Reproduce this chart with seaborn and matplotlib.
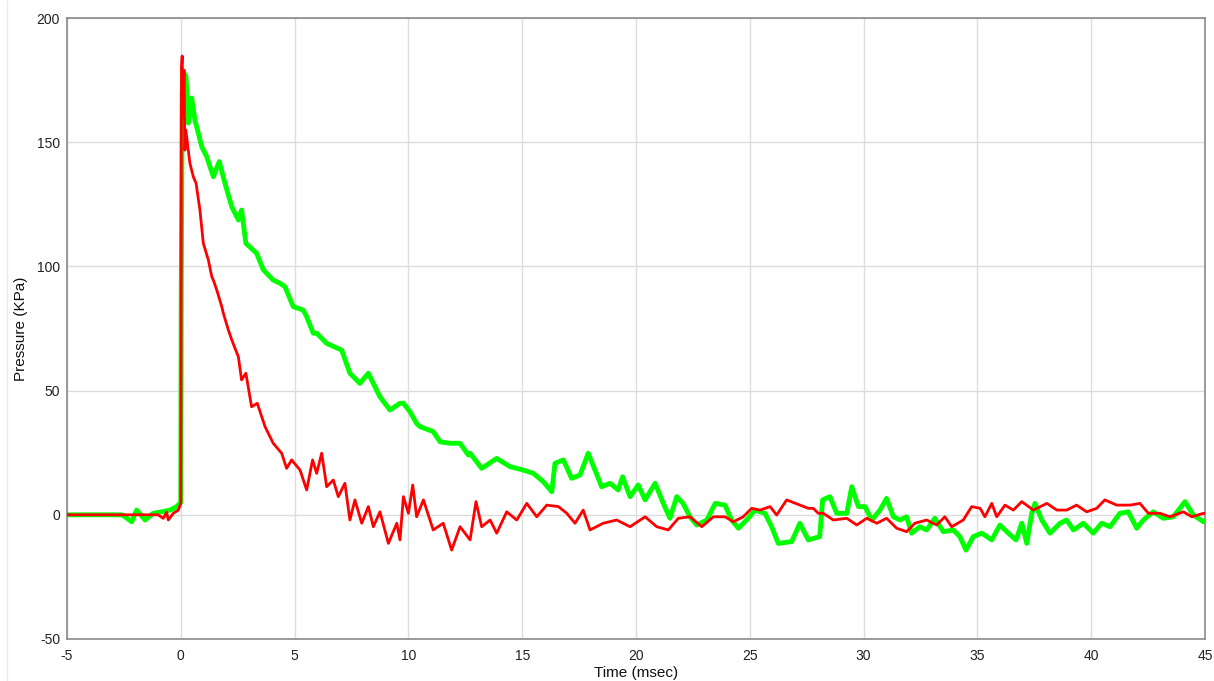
import numpy as np
import pandas as pd
import matplotlib
matplotlib.use("Agg")
import matplotlib.pyplot as plt
from matplotlib.lines import Line2D
import seaborn as sns

# ---- data ----
green_t = [-5.0, -2.6, -2.45, -2.16, -1.94, -1.57, -1.21, -0.84, -0.47, -0.18, -0.04, 0.0,
           0.02, 0.06, 0.11, 0.23, 0.33, 0.48, 0.62, 0.77, 0.92, 1.14, 1.43, 1.69, 1.94,
           2.24, 2.53, 2.67, 2.86, 3.33, 3.63, 4.06, 4.36, 4.58, 4.94, 5.38, 5.53, 5.82,
           5.97, 6.41, 7.07, 7.43, 7.87, 8.24, 8.75, 9.19, 9.63, 9.78, 10.07, 10.36, 10.51,
           11.09, 11.39, 11.83, 12.27, 12.63, 12.71, 13.22, 13.88, 14.46, 15.05, 15.49,
           15.93, 16.3, 16.44, 16.81, 17.17, 17.54, 17.9, 18.2, 18.49, 18.86, 19.22, 19.41,
           19.74, 20.10, 20.4, 20.84, 21.2, 21.49, 21.79, 22.07, 22.37, 22.67, 23.11, 23.48,
           23.91, 24.2, 24.5, 24.86, 25.23, 25.67, 25.96, 26.25, 26.84, 27.2, 27.57, 28.07,
           28.2, 28.52, 28.82, 29.26, 29.48, 29.77, 30.06, 30.36, 30.72, 31.01, 31.31,
           31.60, 31.89, 32.11, 32.47, 32.77, 33.13, 33.5, 33.94, 34.23, 34.5, 34.82,
           35.19, 35.63, 35.99, 36.36, 36.7, 36.95, 37.17, 37.39, 37.53, 37.83, 38.19,
           38.63, 38.92, 39.22, 39.66, 40.09, 40.46, 40.83, 41.26, 41.63, 42.0, 42.29,
           42.73, 43.17, 43.61, 44.12, 44.49, 44.93, 45.0]
green_p = [0.0, 0.0, -0.8, -2.8, 1.9, -2.1, 0.6, 1.2, 1.9, 3.3, 4.6, 5.0,
           90.0, 170.0, 178.4, 176.4, 157.7, 167.8, 158.9, 153.7, 148.2, 144.2, 136.1, 142.2, 133.5,
           124.0, 118.7, 122.7, 109.3, 105.3, 98.6, 94.5, 93.2, 91.8, 83.8, 82.4, 79.8, 73.1,
           73.1, 69.0, 66.3, 57.0, 52.9, 57.0, 47.5, 42.2, 44.9, 44.9, 41.5, 36.8, 35.5,
           33.5, 29.4, 28.8, 28.8, 24.1, 24.8, 18.7, 22.7, 19.4, 18.0, 16.7,
           13.3, 9.3, 20.7, 22.1, 14.7, 16.0, 24.8, 18.0, 11.3, 12.7, 10.0, 15.3,
           7.3, 12.0, 6.0, 12.7, 4.6, -1.4, 7.3, 4.6, -0.8, -4.1, -2.1, 4.6,
           3.9, -2.1, -5.4, -2.1, 1.9, 0.6, -4.8, -11.5, -10.8, -3.4, -10.1, -8.8,
           6.0, 7.3, 0.6, 0.6, 11.3, 3.3, 3.3, -2.1, 1.9, 6.6, -0.8,
           -2.1, -0.8, -7.4, -4.8, -6.1, -1.4, -6.8, -6.1, -8.8, -14.2, -8.8,
           -7.4, -10.1, -4.1, -7.4, -10.1, -3.4, -11.5, 0.6, 4.6, -2.1, -7.4,
           -3.4, -2.1, -6.1, -3.4, -7.4, -3.4, -4.8, 0.6, 1.2, -5.4, -2.1,
           1.2, -1.4, -0.8, 5.3, -0.1, -2.8, -2.5]

red_t = [-5.0, -1.0, -0.77, -0.62, -0.55, -0.33, -0.11, 0.0, 0.03, 0.06, 0.10, 0.14,
         0.18, 0.22, 0.40, 0.55, 0.67, 0.84, 0.99, 1.21, 1.36, 1.43, 1.58, 1.80, 1.87,
         2.09, 2.24, 2.53, 2.67, 2.86, 3.11, 3.36, 3.70, 4.06, 4.43, 4.65, 4.87, 5.24,
         5.53, 5.79, 5.97, 6.19, 6.41, 6.70, 6.92, 7.21, 7.43, 7.65, 7.95, 8.24, 8.46,
         8.75, 9.12, 9.49, 9.63, 9.78, 10.0, 10.19, 10.36, 10.66, 11.09, 11.53, 11.9,
         12.27, 12.71, 12.97, 13.22, 13.59, 13.88, 14.32, 14.76, 15.2, 15.64, 16.08,
         16.59, 16.96, 17.32, 17.68, 17.98, 18.56, 19.15, 19.74, 20.4, 20.91, 21.42,
         21.86, 22.37, 22.89, 23.4, 23.91, 24.28, 24.71, 25.08, 25.45, 25.89, 26.18,
         26.62, 27.2, 27.57, 27.79, 28.01, 28.23, 28.67, 29.26, 29.7, 30.14, 30.58,
         31.01, 31.45, 31.89, 32.25, 32.77, 33.21, 33.57, 33.87, 34.38, 34.75, 35.12,
         35.33, 35.63, 35.85, 36.21, 36.58, 36.95, 37.46, 38.05, 38.49, 38.92, 39.36,
         39.8, 40.24, 40.6, 41.12, 41.71, 42.14, 42.51, 43.02, 43.46, 44.05, 44.42,
         44.93, 45.0]
red_p = [0.0, 0.0, -1.4, 1.0, -2.1, 0.6, 1.9, 4.6, 180.0, 184.7, 160.0, 179.0,
         146.8, 154.9, 141.5, 136.1, 133.5, 122.7, 109.3, 102.6, 95.9, 94.5, 90.5, 83.8, 81.1,
         74.4, 70.4, 63.6, 54.3, 57.0, 43.5, 44.9, 35.5, 28.8, 24.8, 18.7, 22.1, 18.0,
         10.0, 22.1, 16.7, 24.8, 11.3, 14.0, 7.3, 12.7, -2.1, 6.0, -3.4, 3.3, -4.8,
         1.2, -11.5, -3.4, -10.1, 7.3, 0.6, 12.0, -0.8, 6.0, -6.1, -3.4, -14.2,
         -4.8, -10.1, 5.3, -4.8, -2.1, -7.4, 1.2, -2.1, 4.6, -0.8, 3.9,
         3.3, 0.6, -3.4, 1.9, -6.1, -3.4, -2.1, -4.8, -0.8, -4.8, -6.1,
         -1.4, -0.8, -4.8, -0.8, -0.8, -2.8, -0.8, 2.6, 1.9, 3.3, -0.1,
         6.0, 3.9, 2.6, 2.6, 0.6, 0.6, -2.1, -1.4, -4.1, -1.4, -3.4,
         -1.4, -5.4, -6.8, -3.4, -2.1, -4.1, -0.8, -4.8, -2.1, 3.3, 2.6,
         -0.8, 4.6, -0.8, 3.9, 1.9, 5.3, 1.9, 4.6, 1.9, 1.9, 3.9,
         1.2, 2.6, 6.0, 3.9, 3.9, 4.6, 0.6, 0.6, -0.8, 1.2, -0.8,
         0.6, 0.5]

x_ticks = [-5, 0, 5, 10, 15, 20, 25, 30, 35, 40, 45]
y_ticks = [-50, 0, 50, 100, 150, 200]

green_df = pd.DataFrame({"t": green_t, "p": green_p})
red_df = pd.DataFrame({"t": red_t, "p": red_p})

sns.set_theme(style="white")
plt.rcParams["font.family"] = ["Liberation Sans", "DejaVu Sans"]

fig = plt.figure(figsize=(12.14, 6.81), dpi=100)
ax = fig.add_axes([67 / 1214, 42 / 681, 1138 / 1214, 621 / 681])

sns.lineplot(data=green_df, x="t", y="p", ax=ax, color="#00ff00", linewidth=3.5,
             sort=False, estimator=None, zorder=3)
sns.lineplot(data=red_df, x="t", y="p", ax=ax, color="#ff0000", linewidth=2.0,
             sort=False, estimator=None, zorder=4)

ax.set_xlim(-5, 45)
ax.set_ylim(-50, 200)
ax.set_xticks(x_ticks)
ax.set_yticks(y_ticks)
ax.set_xticklabels([str(v) for v in x_ticks])
ax.set_yticklabels([str(v) for v in y_ticks])
ax.grid(True, color="#dcdcdc", linewidth=1.0)
ax.set_axisbelow(True)
for s in ax.spines.values():
    s.set_visible(True)
    s.set_color("#8a8a8a")
    s.set_linewidth(1.2)
ax.tick_params(axis="both", length=0, labelsize=10, colors="#222222")
ax.tick_params(axis="x", pad=7)
ax.tick_params(axis="y", pad=5)
ax.set_xlabel("Time (msec)", fontsize=11, color="#111111", labelpad=2)
ax.set_ylabel("Pressure (KPa)", fontsize=11, color="#111111", labelpad=6)

fig.add_artist(Line2D([6.5 / 1214, 6.5 / 1214], [0, 1], color="#e6edf3", linewidth=1.0))

fig.savefig("out.png", dpi=100)
